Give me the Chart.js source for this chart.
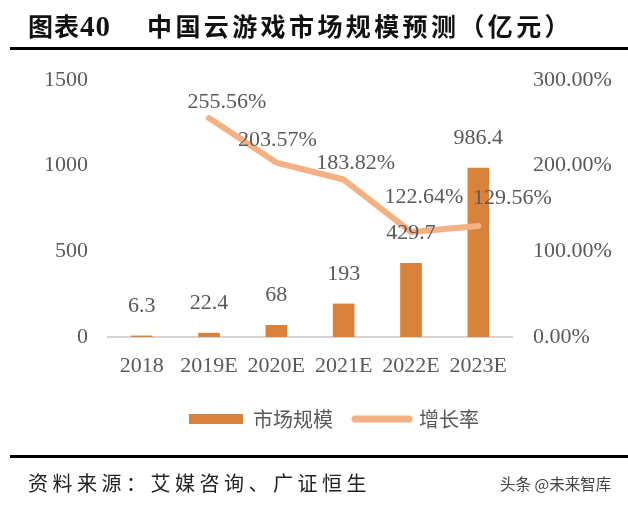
<!DOCTYPE html>
<html>
<head>
<meta charset="utf-8">
<script src="https://cdn.jsdelivr.net/npm/chart.js@4/dist/chart.umd.min.js"></script>
<style>
  html, body { margin: 0; padding: 0; background: #fff; }
  #wrap { position: relative; width: 628px; height: 511px; overflow: hidden; }
  #chart { position: absolute; left: 0; top: 0; }
  .t { position: absolute; white-space: nowrap; font-family: "Noto Sans CJK SC", sans-serif; }
  #title1 { left: 28px; top: 7px; font-size: 25px; font-weight: 700; color: #111; letter-spacing: 1px; }
  #title1 b { font-family: "Liberation Serif", serif; font-size: 29px; }
  #title2 { left: 147px; top: 7px; font-size: 25px; font-weight: 700; color: #111; letter-spacing: 3.4px; }
  .rule { position: absolute; left: 10px; width: 618px; height: 3px; background: #000; }
  #source { left: 28px; top: 468px; font-size: 20px; color: #222; letter-spacing: 4.5px; }
  #mark { left: 500px; top: 472px; font-size: 15.5px; color: #444; }
</style>
</head>
<body>
<div id="wrap">
  <canvas id="chart" width="628" height="511"></canvas>
  <div class="t" id="title1">图表<b>40</b></div>
  <div class="t" id="title2">中国云游戏市场规模预测（亿元）</div>
  <div class="rule" style="top:47px"></div>
  <div class="rule" style="top:455px"></div>
  <div class="t" id="source">资料来源：艾媒咨询、广证恒生</div>
  <div class="t" id="mark">头条 @未来智库</div>
</div>
<script>
const years = ["2018", "2019E", "2020E", "2021E", "2022E", "2023E"];
const marketSize = [6.3, 22.4, 68, 193, 429.7, 986.4];
const growthRate = [null, 255.56, 203.57, 183.82, 122.64, 129.56];
const sizeTicks = [0, 500, 1000, 1500];
const rateTicks = [0, 100, 200, 300];

const barColor = "#d9823b";
const lineColor = "#f4b183";
const textColor = "#595959";
const serif = "'Liberation Serif', 'DejaVu Serif', serif";

// where each growth label sits relative to its point
const rateLabelShift = [[0, 0], [18, -16], [1, -22], [12, -16], [13, -35], [34, -28]];

const valueLabels = {
  id: "valueLabels",
  afterDatasetsDraw(chart) {
    const ctx = chart.ctx;
    ctx.save();
    ctx.font = "22px " + serif;
    ctx.fillStyle = textColor;
    ctx.textAlign = "center";
    ctx.textBaseline = "middle";
    chart.getDatasetMeta(0).data.forEach((bar, i) => {
      ctx.fillText(String(marketSize[i]), bar.x, bar.y - 30);
    });
    chart.getDatasetMeta(1).data.forEach((pt, i) => {
      if (growthRate[i] == null) return;
      const s = rateLabelShift[i];
      ctx.fillText(growthRate[i].toFixed(2) + "%", pt.x + s[0], pt.y + s[1]);
    });
    ctx.restore();
  }
};

const ctx = document.getElementById("chart").getContext("2d");
new Chart(ctx, {
  type: "bar",
  data: {
    labels: years,
    datasets: [
      {
        type: "bar",
        label: "市场规模",
        data: marketSize,
        backgroundColor: barColor,
        barThickness: 21,
        yAxisID: "y",
        order: 2
      },
      {
        type: "line",
        label: "增长率",
        data: growthRate,
        borderColor: lineColor,
        backgroundColor: lineColor,
        borderWidth: 6,
        borderCapStyle: "round",
        borderJoinStyle: "round",
        pointRadius: 0,
        tension: 0,
        yAxisID: "y1",
        order: 1
      }
    ]
  },
  options: {
    responsive: false,
    animation: false,
    events: [],
    layout: { padding: { top: 80, left: 40, right: 0, bottom: 72 } },
    plugins: {
      tooltip: { enabled: false },
      legend: {
        position: "bottom",
        labels: {
          usePointStyle: true,
          pointStyleWidth: 54,
          boxHeight: 10,
          padding: 22,
          color: textColor,
          font: { family: "'Noto Sans CJK SC', sans-serif", size: 20 },
          generateLabels(chart) {
            return Chart.defaults.plugins.legend.labels.generateLabels(chart)
              .sort((a, b) => a.datasetIndex - b.datasetIndex)
              .map(item => {
                if (item.datasetIndex === 0) {
                  item.pointStyle = "rect";
                  item.lineWidth = 0;
                  item.fillStyle = barColor;
                } else {
                  item.pointStyle = "line";
                  item.lineWidth = 7;
                  item.strokeStyle = lineColor;
                  item.lineCap = "round";
                }
                return item;
              });
          }
        }
      }
    },
    scales: {
      x: {
        grid: { display: false, drawTicks: false },
        border: { display: true, color: "#d4d4d4", width: 2 },
        ticks: { color: textColor, font: { family: serif, size: 22 }, padding: 16, maxRotation: 0 },
        afterFit(scale) { scale.height = 50; }
      },
      y: {
        position: "left",
        min: 0,
        max: 1500,
        grid: { display: false, drawTicks: false },
        border: { display: false },
        afterBuildTicks(scale) { scale.ticks = sizeTicks.map(v => ({ value: v })); },
        ticks: {
          color: textColor,
          font: { family: serif, size: 22 },
          padding: 20,
          callback: v => String(v)
        },
        afterFit(scale) { scale.width = 68; }
      },
      y1: {
        position: "right",
        min: 0,
        max: 300,
        grid: { display: false, drawTicks: false },
        border: { display: false },
        afterBuildTicks(scale) { scale.ticks = rateTicks.map(v => ({ value: v })); },
        ticks: {
          color: textColor,
          font: { family: serif, size: 22 },
          padding: 21,
          callback: v => v.toFixed(2) + "%"
        },
        afterFit(scale) { scale.width = 116; }
      }
    }
  },
  plugins: [valueLabels]
});
</script>
</body>
</html>
